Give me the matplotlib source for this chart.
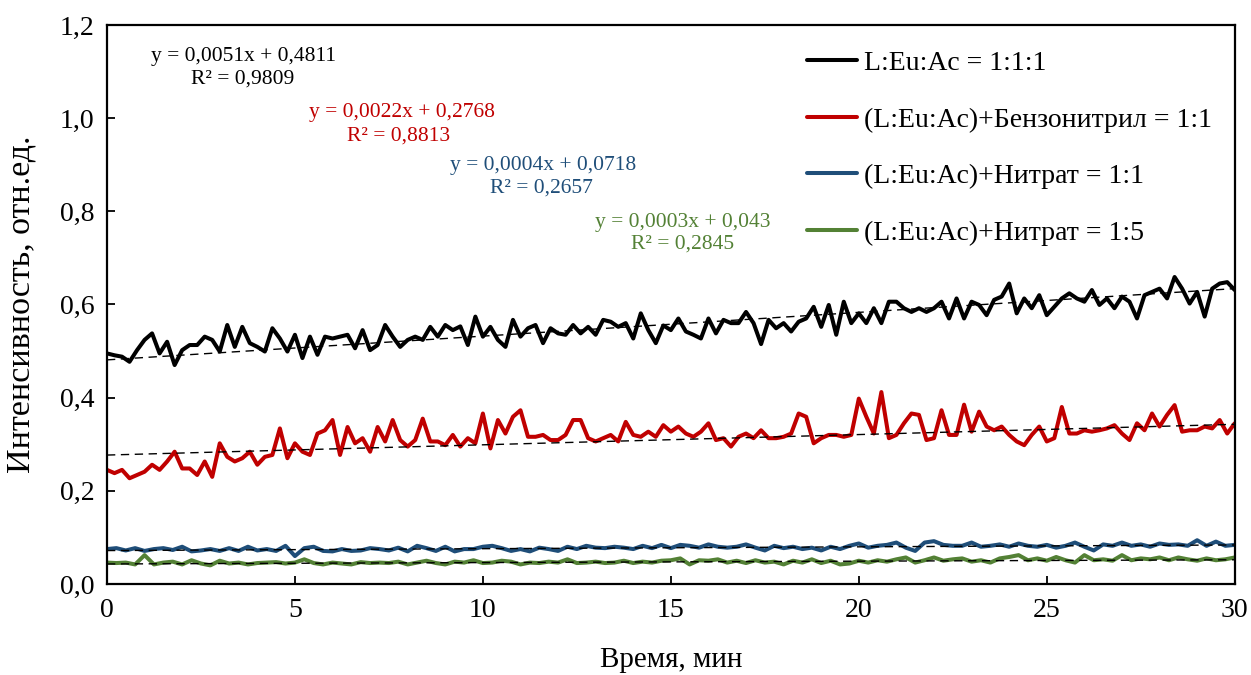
import numpy as np
import matplotlib
matplotlib.use('Agg')
import matplotlib.pyplot as plt

plt.rcParams['font.family'] = ['Liberation Serif', 'DejaVu Serif']

# measured series, black and red every 0.2 min, blue and green every 0.25 min
black = [0.495, 0.491, 0.488, 0.477, 0.502, 0.524, 0.538, 0.495, 0.520, 0.470,
         0.502, 0.513, 0.513, 0.531, 0.524, 0.499, 0.556, 0.509, 0.552, 0.517,
         0.509, 0.499, 0.549, 0.527, 0.499, 0.535, 0.485, 0.531, 0.492, 0.531,
         0.527, 0.531, 0.535, 0.506, 0.545, 0.502, 0.513, 0.556, 0.531, 0.509,
         0.524, 0.531, 0.524, 0.552, 0.531, 0.556, 0.545, 0.553, 0.513, 0.574,
         0.531, 0.552, 0.524, 0.509, 0.567, 0.531, 0.549, 0.556, 0.517, 0.549,
         0.538, 0.535, 0.556, 0.538, 0.552, 0.535, 0.567, 0.563, 0.552, 0.560,
         0.527, 0.581, 0.545, 0.517, 0.555, 0.545, 0.570, 0.542, 0.535, 0.527,
         0.570, 0.538, 0.567, 0.560, 0.560, 0.584, 0.560, 0.515, 0.567, 0.549,
         0.560, 0.542, 0.563, 0.570, 0.595, 0.552, 0.599, 0.535, 0.606, 0.560,
         0.581, 0.560, 0.592, 0.560, 0.606, 0.606, 0.592, 0.584, 0.592, 0.584,
         0.592, 0.606, 0.570, 0.613, 0.570, 0.606, 0.599, 0.577, 0.610, 0.617,
         0.645, 0.581, 0.613, 0.592, 0.620, 0.577, 0.595, 0.613, 0.624, 0.613,
         0.606, 0.631, 0.599, 0.613, 0.592, 0.617, 0.606, 0.570, 0.620, 0.627,
         0.634, 0.613, 0.659, 0.634, 0.602, 0.627, 0.574, 0.634, 0.645, 0.648, 0.631]

red = [0.245, 0.238, 0.245, 0.227, 0.234, 0.241, 0.256, 0.245, 0.263, 0.284,
       0.248, 0.248, 0.234, 0.263, 0.230, 0.302, 0.273, 0.263, 0.270, 0.284,
       0.256, 0.273, 0.277, 0.334, 0.270, 0.302, 0.284, 0.277, 0.323, 0.330,
       0.352, 0.277, 0.337, 0.302, 0.313, 0.284, 0.337, 0.306, 0.352, 0.309,
       0.295, 0.309, 0.355, 0.306, 0.306, 0.298, 0.320, 0.295, 0.313, 0.302,
       0.366, 0.291, 0.352, 0.323, 0.359, 0.373, 0.316, 0.316, 0.320, 0.309,
       0.309, 0.320, 0.352, 0.352, 0.313, 0.306, 0.313, 0.320, 0.306, 0.348,
       0.320, 0.316, 0.327, 0.316, 0.341, 0.327, 0.338, 0.323, 0.316, 0.327,
       0.345, 0.309, 0.313, 0.295, 0.316, 0.323, 0.313, 0.330, 0.313, 0.313,
       0.316, 0.323, 0.366, 0.359, 0.302, 0.313, 0.320, 0.320, 0.316, 0.320,
       0.398, 0.359, 0.323, 0.412, 0.313, 0.320, 0.345, 0.366, 0.363, 0.309,
       0.313, 0.373, 0.320, 0.320, 0.385, 0.327, 0.370, 0.338, 0.330, 0.338,
       0.320, 0.306, 0.298, 0.320, 0.338, 0.306, 0.313, 0.380, 0.323, 0.323,
       0.330, 0.327, 0.330, 0.334, 0.341, 0.323, 0.309, 0.345, 0.330, 0.366,
       0.338, 0.363, 0.384, 0.327, 0.330, 0.330, 0.338, 0.334, 0.352, 0.323, 0.345]

blue = [0.075, 0.077, 0.072, 0.077, 0.071, 0.075, 0.077, 0.073, 0.080, 0.070,
        0.072, 0.075, 0.071, 0.077, 0.071, 0.080, 0.072, 0.075, 0.071, 0.082,
        0.060, 0.077, 0.080, 0.071, 0.070, 0.075, 0.071, 0.072, 0.077, 0.075, 0.072,
        0.078, 0.070, 0.082, 0.077, 0.071, 0.080, 0.070, 0.075, 0.075, 0.080,
        0.082, 0.077, 0.071, 0.075, 0.070, 0.078, 0.075, 0.071, 0.080, 0.075,
        0.082, 0.078, 0.077, 0.080, 0.078, 0.075, 0.082, 0.077, 0.084, 0.077,
        0.084, 0.082, 0.078, 0.085, 0.080, 0.078, 0.080, 0.085, 0.078, 0.072,
        0.082, 0.077, 0.080, 0.075, 0.078, 0.072, 0.080, 0.075, 0.082, 0.087,
        0.078, 0.082, 0.084, 0.089, 0.078, 0.071, 0.089, 0.092, 0.084, 0.082,
        0.082, 0.089, 0.080, 0.082, 0.085, 0.080, 0.087, 0.082, 0.080, 0.084,
        0.078, 0.082, 0.089, 0.080, 0.072, 0.085, 0.082, 0.089, 0.082, 0.085,
        0.080, 0.087, 0.084, 0.085, 0.082, 0.094, 0.082, 0.091, 0.082, 0.084]

green = [0.046, 0.045, 0.046, 0.042, 0.062, 0.042, 0.046, 0.048, 0.042, 0.051,
         0.044, 0.040, 0.050, 0.044, 0.046, 0.042, 0.045, 0.046, 0.047, 0.044,
         0.046, 0.053, 0.045, 0.042, 0.046, 0.044, 0.042, 0.047, 0.045, 0.046, 0.045,
         0.048, 0.042, 0.046, 0.050, 0.045, 0.042, 0.048, 0.046, 0.051, 0.045,
         0.046, 0.050, 0.048, 0.042, 0.046, 0.045, 0.048, 0.046, 0.053, 0.045,
         0.046, 0.048, 0.045, 0.046, 0.050, 0.045, 0.048, 0.046, 0.050, 0.051,
         0.055, 0.042, 0.051, 0.050, 0.053, 0.046, 0.050, 0.045, 0.051, 0.046,
         0.048, 0.042, 0.050, 0.046, 0.053, 0.045, 0.050, 0.042, 0.044, 0.050,
         0.046, 0.051, 0.048, 0.053, 0.057, 0.046, 0.051, 0.057, 0.050, 0.053,
         0.055, 0.048, 0.051, 0.046, 0.055, 0.058, 0.062, 0.051, 0.055, 0.050,
         0.058, 0.051, 0.046, 0.062, 0.051, 0.053, 0.050, 0.062, 0.051, 0.055,
         0.053, 0.057, 0.051, 0.057, 0.053, 0.050, 0.055, 0.051, 0.053, 0.057]

labels = ['L:Eu:Ac = 1:1:1', '(L:Eu:Ac)+Бензонитрил = 1:1',
          '(L:Eu:Ac)+Нитрат = 1:1', '(L:Eu:Ac)+Нитрат = 1:5']
colors = ['#000000', '#C00000', '#1F4E79', '#538135']

# linear trendlines (slope, intercept, R2) as printed on the chart
slopes = [0.0051, 0.0022, 0.0004, 0.0003]
intercepts = [0.4811, 0.2768, 0.0718, 0.043]
r2 = ['0,9809', '0,8813', '0,2657', '0,2845']
eq_text = ['y = 0,0051x + 0,4811', 'y = 0,0022x + 0,2768',
           'y = 0,0004x + 0,0718', 'y = 0,0003x + 0,043']

series = [black, red, blue, green]

fig = plt.figure(figsize=(12.51, 6.75), dpi=100)
ax = fig.add_axes([0.0855, 0.1348, 0.9015, 0.8282])

for s, c, lab in zip(series, colors, labels):
    t = np.linspace(0, 30, len(s))
    ax.plot(t, s, color=c, lw=2.9, label=lab, solid_joinstyle='round', solid_capstyle='round')

tt = np.array([0, 30])
for k, b in zip(slopes, intercepts):
    ax.plot(tt, k * tt + b, color='black', lw=1.0, ls=(0, (6, 4)), zorder=5)

ax.set_xlim(0, 30)
ax.set_ylim(0, 1.2)
ax.set_xticks(range(0, 31, 5))
ax.set_yticks(np.arange(0, 1.21, 0.2))
ax.set_yticklabels([f'{v:.1f}'.replace('.', ',') for v in np.arange(0, 1.21, 0.2)])
ax.tick_params(direction='in', labelsize=20, length=6, width=1.3)
ax.tick_params(axis='x', pad=10)
ax.tick_params(axis='y', pad=9)
for sp in ax.spines.values():
    sp.set_linewidth(1.6)

ax.set_xlabel('Время, мин', fontsize=21)
ax.xaxis.label.set_va('center')
ax.xaxis.set_label_coords(0.5, -0.136)
ax.set_ylabel('Интенсивность, отн.ед.', fontsize=24.5)
ax.yaxis.label.set_va('center')
ax.yaxis.set_label_coords(-0.076, 0.5)

leg = ax.legend(loc='upper left', bbox_to_anchor=(0.6248, 0.962), bbox_transform=fig.transFigure,
                frameon=False, fontsize=20, handlelength=1.8, labelspacing=1.12, handletextpad=0.25)

# equation labels (pixel centres from the reference)
eq_pos = [(243, 57, 243, 79), (402, 113, 399, 136), (543, 166, 541, 188), (683, 222, 683, 244)]
for (x1, y1, x2, y2), e, r, c in zip(eq_pos, eq_text, r2, colors):
    fig.text(x1 / 1251, 1 - y1 / 675, e, color=c, fontsize=15.5, ha='center', va='center')
    fig.text(x2 / 1251, 1 - y2 / 675, 'R² = ' + r, color=c, fontsize=15.5, ha='center', va='center')

fig.savefig('out.png', dpi=100)
